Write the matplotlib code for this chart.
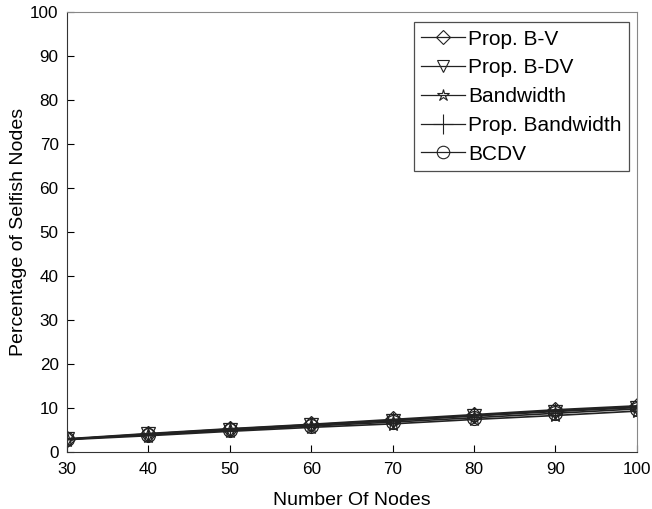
import numpy as np
import matplotlib.pyplot as plt
from matplotlib.lines import Line2D

nodes = [30, 40, 50, 60, 70, 80, 90, 100]

prop_bv = [3.0, 4.2, 5.3, 6.3, 7.4, 8.5, 9.6, 10.5]
prop_bdv = [2.9, 4.0, 5.1, 6.1, 7.1, 8.2, 9.2, 10.1]
bandwidth = [2.8, 3.7, 4.7, 5.6, 6.4, 7.4, 8.3, 9.3]
prop_bw = [2.9, 4.1, 5.2, 6.2, 7.2, 8.3, 9.4, 10.3]
bcdv = [2.9, 3.9, 4.9, 5.9, 6.8, 7.8, 8.8, 9.8]

labels = ['Prop. B-V', 'Prop. B-DV', 'Bandwidth', 'Prop. Bandwidth', 'BCDV']
markers = ['D', 'v', '*', '+', 'o']
sizes = [8, 10, 11, 12, 10]
leg_sizes = [7, 9, 9, 14, 9]

plt.rcParams['font.family'] = ['Liberation Sans', 'DejaVu Sans']

fig = plt.figure(figsize=(6.52, 5.09), dpi=100)
ax = fig.add_axes([0.1028, 0.112, 0.874, 0.864])

series = [prop_bv, prop_bdv, bandwidth, prop_bw, bcdv]
for s, lab, m, ms in zip(series, labels, markers, sizes):
    ax.plot(nodes, s, color='#222222', lw=1.2, marker=m, markersize=ms,
            markerfacecolor='none', markeredgecolor='#222222', markeredgewidth=0.9)

ax.set_xlim(30, 100)
ax.set_ylim(0, 100)
ax.set_xticks(range(30, 101, 10))
ax.set_yticks(range(0, 101, 10))
ax.tick_params(direction='in', labelsize=12.3, length=5, top=False, right=False, width=0.8)
ax.tick_params(axis='x', pad=7)
ax.tick_params(axis='y', pad=6)
ax.set_xlabel('Number Of Nodes', fontsize=14, labelpad=11)
ax.set_ylabel('Percentage of Selfish Nodes', fontsize=14, labelpad=2)
for side in ['left', 'bottom']:
    ax.spines[side].set_color('#333333')
for side in ['top', 'right']:
    ax.spines[side].set_color('#888888')

# legend handles with smaller markers, like the original
handles = [Line2D([], [], color='#222222', lw=0.9, marker=m, markersize=ls,
                  markerfacecolor='none', markeredgecolor='#222222', markeredgewidth=0.8)
           for m, ls in zip(markers, leg_sizes)]
leg = ax.legend(handles, labels, loc='upper right', bbox_to_anchor=(0.986, 0.977),
                fontsize=15, frameon=True, fancybox=False, edgecolor='#222222',
                handlelength=2.1, handletextpad=0.15, borderpad=0.35, labelspacing=0.47,
                borderaxespad=0)
leg.get_frame().set_linewidth(0.9)

fig.savefig('out.png', dpi=100)
